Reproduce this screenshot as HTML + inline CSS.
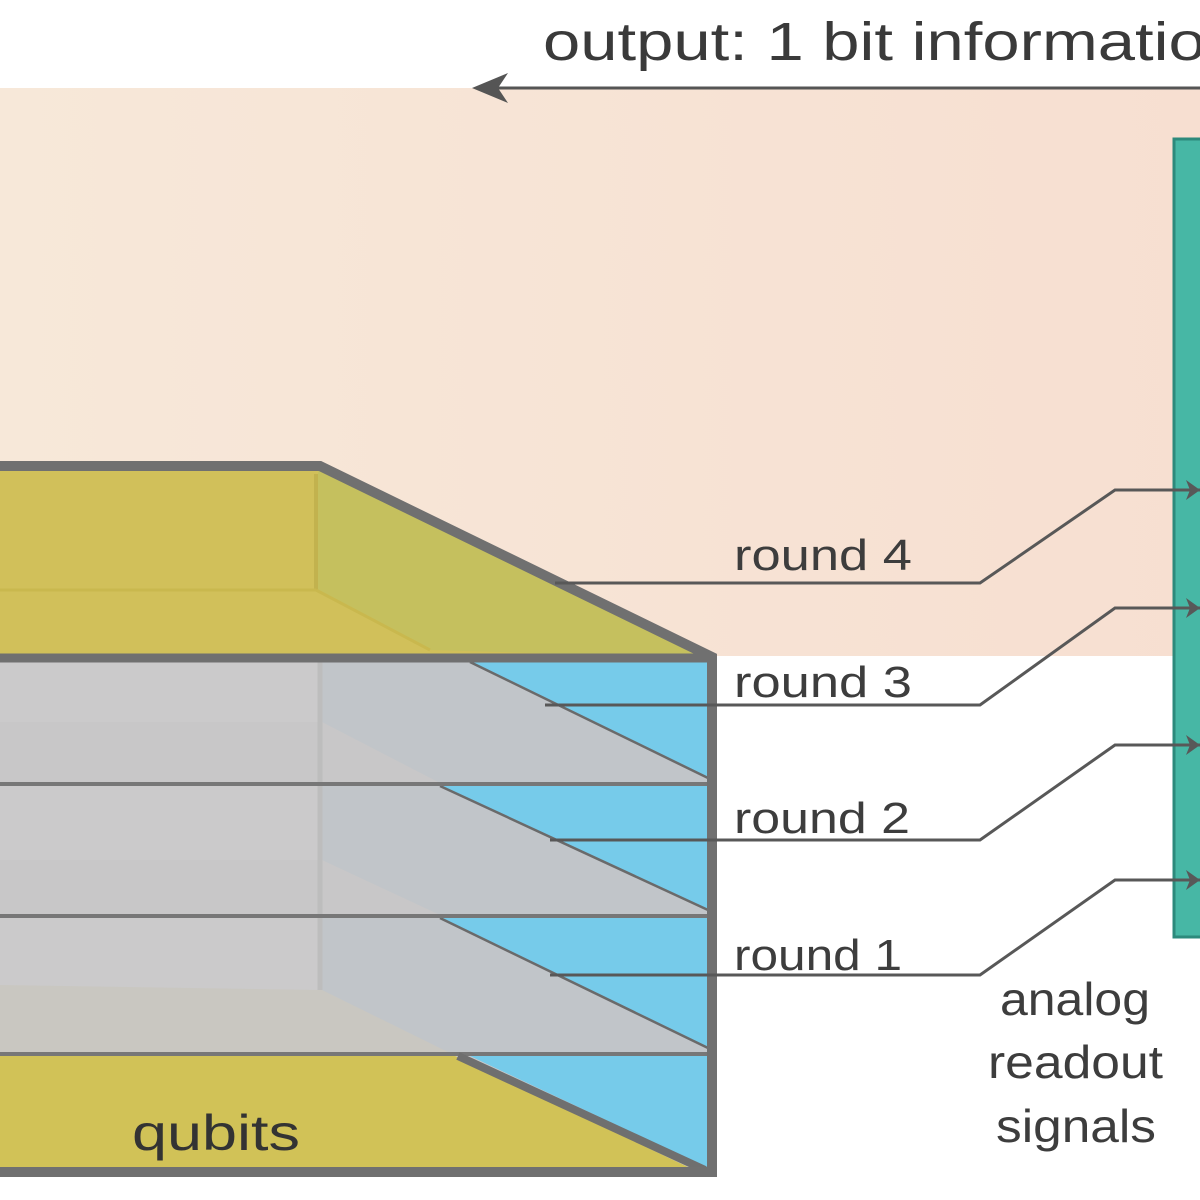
<!DOCTYPE html>
<html><head><style>html,body{margin:0;padding:0;background:#fff;overflow:hidden}svg{display:block}</style></head>
<body>
<svg width="1200" height="1200" viewBox="0 0 1200 1200" xmlns="http://www.w3.org/2000/svg" font-family="Liberation Sans, sans-serif">
<defs>
<linearGradient id="pg" x1="0" x2="1" y1="0" y2="0"><stop offset="0" stop-color="#f7e8d9"/><stop offset="1" stop-color="#f7dfd1"/></linearGradient>
</defs>
<rect x="0" y="88" width="1200" height="568" fill="url(#pg)"/>
<text x="543" y="60" font-size="54" fill="#3a3a3a" textLength="700" lengthAdjust="spacingAndGlyphs">output: 1 bit information</text>
<line x1="1200" y1="88" x2="485" y2="88" stroke="#555" stroke-width="3"/>
<polygon points="472,88 508,73 498,88 508,103" fill="#555"/>
<rect x="1174" y="139" width="40" height="798" fill="#47b7a5" stroke="#2d8a7c" stroke-width="3"/>
<polygon points="0,470 318,470 708,658 0,658" fill="#d1c05a"/>
<polygon points="318,470 708,658 430,650 318,590" fill="#c5c05e"/>
<line x1="316" y1="474" x2="316" y2="590" stroke="#c2b24e" stroke-width="4"/>
<line x1="0" y1="590" x2="316" y2="590" stroke="#c9b84e" stroke-width="3"/>
<line x1="316" y1="590" x2="430" y2="650" stroke="#c9b84e" stroke-width="3"/>
<g>
<rect x="0" y="660" width="710" height="510" fill="#cbcacb"/>
<polygon points="322,662 710,662 710,783 322,783" fill="#c1c5c9"/>
<polygon points="322,785 710,785 710,915 322,915" fill="#c1c5c9"/>
<polygon points="322,917 710,917 710,1053 322,1053" fill="#c1c5c9"/>
<polygon points="0,722 322,722 440,783 0,783" fill="#c8c7c8"/>
<polygon points="0,860 322,860 440,915 0,915" fill="#c8c7c8"/>
<polygon points="0,985 322,990 450,1053 0,1053" fill="#c9c7c1"/>
<line x1="320" y1="662" x2="320" y2="990" stroke="#bdbdbd" stroke-width="5"/>
<polygon points="470,662 708,662 708,778" fill="#76cbea"/>
<polygon points="440,786 708,786 708,910" fill="#76cbea"/>
<polygon points="440,918 708,918 708,1048" fill="#76cbea"/>
<polygon points="470,1056 708,1056 708,1168" fill="#76cbea"/>
<g stroke="#6a6a6a" stroke-width="2.5">
<line x1="470" y1="662" x2="708" y2="778"/>
<line x1="440" y1="786" x2="708" y2="910"/>
<line x1="440" y1="918" x2="708" y2="1048"/>
</g>
<g stroke="#777" stroke-width="4">
<line x1="0" y1="784" x2="710" y2="784"/>
<line x1="0" y1="916" x2="710" y2="916"/>
<line x1="0" y1="1054" x2="710" y2="1054"/>
</g>
<polygon points="0,1056 455,1056 690,1168 0,1168" fill="#d1c257"/>
<line x1="458" y1="1056" x2="705" y2="1170" stroke="#6f6f6f" stroke-width="8"/>
</g>
<text x="132" y="1150" font-size="50" fill="#333" textLength="168" lengthAdjust="spacingAndGlyphs">qubits</text>
<polyline points="0,466 320,466 712,657 712,1172 0,1172" fill="none" stroke="#707070" stroke-width="10" stroke-linejoin="miter"/>
<line x1="0" y1="658" x2="712" y2="658" stroke="#707070" stroke-width="9"/>
<g stroke="#585858" stroke-width="3" fill="none">
<polyline points="555,583 980,583 1115,490 1200,490"/>
<polyline points="545,705 980,705 1115,608 1200,608"/>
<polyline points="550,840 980,840 1115,745 1200,745"/>
<polyline points="550,975 980,975 1115,880 1200,880"/>
</g>
<g fill="#585858">
<polygon points="1200,490 1186,480 1190,490 1186,500"/>
<polygon points="1200,608 1186,598 1190,608 1186,618"/>
<polygon points="1200,745 1186,735 1190,745 1186,755"/>
<polygon points="1200,880 1186,870 1190,880 1186,890"/>
</g>
<g font-size="44" fill="#3d3d3d">
<text x="734" y="570" textLength="178" lengthAdjust="spacingAndGlyphs">round 4</text>
<text x="734" y="697" textLength="178" lengthAdjust="spacingAndGlyphs">round 3</text>
<text x="734" y="833" textLength="176" lengthAdjust="spacingAndGlyphs">round 2</text>
<text x="734" y="970" textLength="168" lengthAdjust="spacingAndGlyphs">round 1</text>
</g>
<g font-size="46" fill="#3d3d3d">
<text x="1000" y="1015" textLength="150" lengthAdjust="spacingAndGlyphs">analog</text>
<text x="988" y="1078" textLength="175" lengthAdjust="spacingAndGlyphs">readout</text>
<text x="996" y="1142" textLength="160" lengthAdjust="spacingAndGlyphs">signals</text>
</g>
</svg>
</body></html>
